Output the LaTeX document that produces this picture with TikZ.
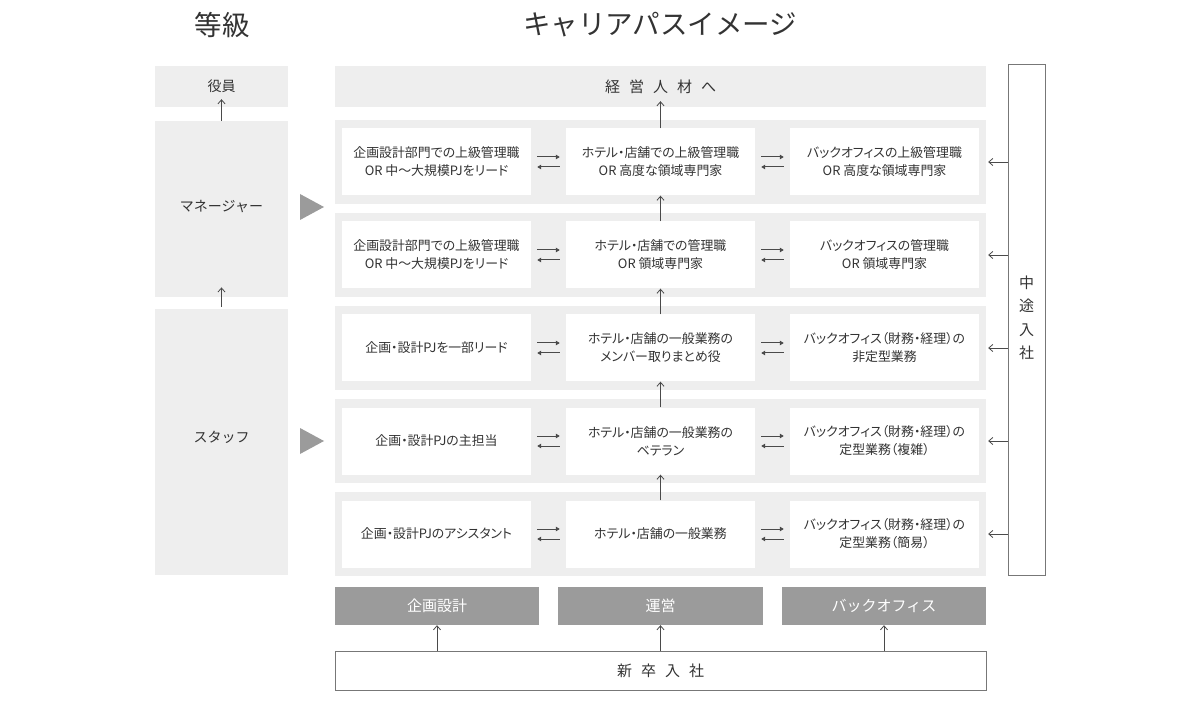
\documentclass[tikz,border=0pt]{standalone}
\usepackage{fontspec}
\setmainfont{Noto Sans CJK JP}
\newfontfamily\pfont[RawFeature=+palt]{Noto Sans CJK JP}
\usetikzlibrary{arrows.meta,calc}
\definecolor{bandc}{HTML}{EEEEEE}
\definecolor{darkc}{HTML}{9B9B9B}
\definecolor{txtc}{HTML}{333333}
\definecolor{lnc}{HTML}{4A4A4A}
\definecolor{framec}{HTML}{777777}
\newcommand{\lsp}{\hspace{9pt}}
\begin{document}
\begin{tikzpicture}[x=1pt,y=-1pt,
  bandbox/.style={fill=bandc,draw=none,inner sep=0pt,minimum width=651pt,minimum height=84pt},
  wbox/.style={fill=white,draw=none,inner sep=0pt,minimum width=189pt,minimum height=67pt,align=center,text=txtc,font=\pfont\fontsize{12.9}{18}\selectfont},
  lbox/.style={fill=bandc,draw=none,inner sep=0pt,minimum width=133pt,text=txtc,font=\fontsize{14}{16}\selectfont},
  gbox/.style={fill=darkc,draw=none,inner sep=0pt,minimum height=38pt,text=white,font=\fontsize{15}{18}\selectfont},
  arr/.style={draw=lnc,line width=0.8pt,-{Straight Barb[length=4pt,width=7pt]}},
  pair/.style={draw=lnc,line width=1pt,-{Triangle[length=4pt,width=4.5pt]},shorten <=6pt,shorten >=6pt},
  title/.style={text=txtc,font=\fontsize{27.5}{30}\selectfont}
]
\useasboundingbox (0,0) rectangle (1200,703);

% headers
\node[title] (h1) at (222,25) {等級};
\node[title] (h2) at (660,25) {キャリアパスイメージ};

% left grade column
\node[lbox,minimum height=41pt] (yaku) at (221.5,86.5) {役員};
\node[lbox,minimum height=176pt,anchor=north] (mgr) at (221.5,121) {};
\node[text=txtc,font=\fontsize{14}{16}\selectfont] (mgrt) at (221.5,207) {マネージャー};
\node[lbox,minimum height=266pt,anchor=north] (stf) at (221.5,309) {};
\node[text=txtc,font=\fontsize{14}{16}\selectfont] (stft) at (221.5,437) {スタッフ};
\draw[arr] (mgr.north) -- ([yshift=8pt]yaku.south);
\draw[arr] ([yshift=2pt]stf.north) -- ([yshift=10pt]mgr.south);

% triangles
\fill[darkc] (300,194) -- (324,207) -- (300,220) -- cycle;
\fill[darkc] (300,428) -- (324,441) -- (300,454) -- cycle;

% top box
\node[fill=bandc,inner sep=0pt,minimum width=651pt,minimum height=41pt,text=txtc,font=\fontsize{15}{18}\selectfont] (top) at (660.5,86.5) {経\lsp 営\lsp 人\lsp 材\lsp へ};

% bands
\foreach \i/\y in {1/162,2/255,3/348,4/441,5/534}{
  \node[bandbox] (r\i) at (660.5,\y) {};
}

% row 1
\node[wbox] (c11) at (436.5,162) {企画設計部門での上級管理職\\OR 中〜大規模PJをリード};
\node[wbox] (c12) at (660.5,162) {ホテル・店舗での上級管理職\\OR 高度な領域専門家};
\node[wbox] (c13) at (884.5,162) {バックオフィスの上級管理職\\OR 高度な領域専門家};
% row 2
\node[wbox] (c21) at (436.5,255) {企画設計部門での上級管理職\\OR 中〜大規模PJをリード};
\node[wbox] (c22) at (660.5,255) {ホテル・店舗での管理職\\OR 領域専門家};
\node[wbox] (c23) at (884.5,255) {バックオフィスの管理職\\OR 領域専門家};
% row 3
\node[wbox] (c31) at (436.5,348) {企画・設計PJを一部リード};
\node[wbox] (c32) at (660.5,348) {ホテル・店舗の一般業務の\\メンバー取りまとめ役};
\node[wbox] (c33) at (884.5,348) {バックオフィス（財務・経理）の\\非定型業務};
% row 4
\node[wbox] (c41) at (436.5,441) {企画・設計PJの主担当};
\node[wbox] (c42) at (660.5,441) {ホテル・店舗の一般業務の\\ベテラン};
\node[wbox] (c43) at (884.5,441) {バックオフィス（財務・経理）の\\定型業務（複雑）};
% row 5
\node[wbox] (c51) at (436.5,534) {企画・設計PJのアシスタント};
\node[wbox] (c52) at (660.5,534) {ホテル・店舗の一般業務};
\node[wbox] (c53) at (884.5,534) {バックオフィス（財務・経理）の\\定型業務（簡易）};

% horizontal pair arrows
\foreach \i in {1,2,3,4,5}{
  \draw[pair] ([yshift=5pt]c\i1.east) -- ([yshift=5pt]c\i2.west);
  \draw[pair] ([yshift=-5pt]c\i2.west) -- ([yshift=-5pt]c\i1.east);
  \draw[pair] ([yshift=5pt]c\i2.east) -- ([yshift=5pt]c\i3.west);
  \draw[pair] ([yshift=-5pt]c\i3.west) -- ([yshift=-5pt]c\i2.east);
}

% vertical arrows in middle column
\draw[arr] (c12.north) -- ([yshift=6pt]top.south);
\draw[arr] (c22.north) -- (c12.south);
\draw[arr] (c32.north) -- (c22.south);
\draw[arr] (c42.north) -- (c32.south);
\draw[arr] (c52.north) -- (c42.south);

% mid-career box
\node[draw=framec,line width=0.8pt,fill=white,inner sep=0pt,minimum width=37pt,minimum height=511pt] (chu) at (1026.5,319.5) {};
\node[text=txtc,font=\fontsize{15}{23.5}\selectfont,align=center] (chut) at (1026.5,318) {中\\途\\入\\社};
\foreach \i in {1,2,3,4,5}{
  \draw[arr] (chu.west |- r\i.center) -- ([xshift=2pt]r\i.east);
}

% bottom department boxes
\node[gbox,minimum width=204pt] (b1) at (437,606) {企画設計};
\node[gbox,minimum width=205pt] (b2) at (660.5,606) {運営};
\node[gbox,minimum width=204pt] (b3) at (884,606) {バックオフィス};

% new grad box
\node[draw=framec,line width=0.8pt,fill=white,inner sep=0pt,minimum width=651pt,minimum height=39pt,text=txtc,font=\fontsize{15}{18}\selectfont] (shin) at (660.5,670.5) {新\lsp 卒\lsp 入\lsp 社};
\draw[arr] (shin.north -| b1.south) -- (b1.south);
\draw[arr] (shin.north -| b2.south) -- (b2.south);
\draw[arr] (shin.north -| b3.south) -- (b3.south);
\end{tikzpicture}
\end{document}
